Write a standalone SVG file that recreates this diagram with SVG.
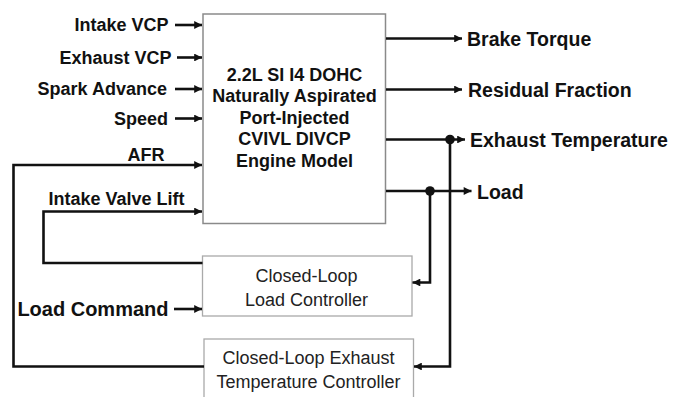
<svg xmlns="http://www.w3.org/2000/svg" width="675" height="397" viewBox="0 0 675 397">
<defs>
<style>
.lbl{font-family:"Liberation Sans",Arial,sans-serif;font-weight:bold;fill:#111;}
.in{font-size:18px;}
.out{font-size:19.5px;}
.box{fill:#fff;stroke:#8a8a8a;stroke-width:1.5;}
.cbox{fill:#fff;stroke:#aaa;stroke-width:1.3;}
.btxt{font-family:"Liberation Sans",Arial,sans-serif;font-weight:bold;font-size:18px;fill:#111;text-anchor:middle;}
.ctxt{font-family:"Liberation Sans",Arial,sans-serif;font-size:18px;fill:#222;text-anchor:middle;}
.w{fill:none;stroke:#111;stroke-width:2.6;}
</style>
<marker id="ah" viewBox="0 0 10 10" refX="10" refY="5" markerWidth="3.4" markerHeight="3" markerUnits="strokeWidth" orient="auto">
<path d="M0,0 L10,5 L0,10 Z" fill="#111"/>
</marker>
</defs>
<rect width="675" height="397" fill="#fff"/>

<g id="engine">
<rect class="box" x="203" y="14" width="182.5" height="209.5"/>
<text class="btxt" x="294.5" y="80.5">2.2L SI I4 DOHC</text>
<text class="btxt" x="294.5" y="102">Naturally Aspirated</text>
<text class="btxt" x="294.5" y="123.5">Port-Injected</text>
<text class="btxt" x="294.5" y="145">CVIVL DIVCP</text>
<text class="btxt" x="294.5" y="166.5">Engine Model</text>
</g>

<g id="load-controller">
<rect class="cbox" x="202.5" y="256" width="209.5" height="60"/>
<text class="ctxt" x="306.5" y="281.5">Closed-Loop</text>
<text class="ctxt" x="306.5" y="305.5">Load Controller</text>
</g>

<g id="exhaust-controller">
<rect class="cbox" x="204" y="339" width="209.5" height="70"/>
<text class="ctxt" x="308.5" y="364">Closed-Loop Exhaust</text>
<text class="ctxt" x="308.5" y="388">Temperature Controller</text>
</g>

<g id="labels">
<text class="lbl in" x="168.5" y="31" text-anchor="end">Intake VCP</text>
<text class="lbl in" x="171.5" y="63.5" text-anchor="end">Exhaust VCP</text>
<text class="lbl in" x="167" y="95" text-anchor="end">Spark Advance</text>
<text class="lbl in" x="168" y="124.5" text-anchor="end">Speed</text>
<text class="lbl in" x="164.5" y="160.5" text-anchor="end">AFR</text>
<text class="lbl in" x="184.5" y="205" text-anchor="end">Intake Valve Lift</text>
<text class="lbl" x="168.5" y="315.5" text-anchor="end" font-size="20px">Load Command</text>
<text class="lbl out" x="467" y="45.5">Brake Torque</text>
<text class="lbl out" x="468" y="96.5">Residual Fraction</text>
<text class="lbl out" x="470" y="146.5">Exhaust Temperature</text>
<text class="lbl out" x="477" y="198.5">Load</text>
</g>

<g id="connectors">
<line class="w" x1="175" y1="25" x2="202" y2="25" marker-end="url(#ah)"/>
<line class="w" x1="177" y1="57.5" x2="202" y2="57.5" marker-end="url(#ah)"/>
<line class="w" x1="175" y1="89" x2="202" y2="89" marker-end="url(#ah)"/>
<line class="w" x1="175" y1="118.5" x2="202" y2="118.5" marker-end="url(#ah)"/>
<polyline class="w" points="204,366.5 13.5,366.5 13.5,165 202,165" marker-end="url(#ah)"/>
<polyline class="w" points="202.5,263 43.5,263 43.5,211.5 202,211.5" marker-end="url(#ah)"/>
<line class="w" x1="174" y1="309" x2="202" y2="309" marker-end="url(#ah)"/>
<line class="w" x1="386" y1="38.5" x2="462" y2="38.5" marker-end="url(#ah)"/>
<line class="w" x1="386" y1="89.5" x2="462" y2="89.5" marker-end="url(#ah)"/>
<line class="w" x1="386" y1="139.5" x2="465" y2="139.5" marker-end="url(#ah)"/>
<line class="w" x1="386" y1="191" x2="471.5" y2="191" marker-end="url(#ah)"/>
<polyline class="w" points="430,191 430,282.5 412.5,282.5" marker-end="url(#ah)"/>
<polyline class="w" points="450,139.5 450,366.5 414,366.5" marker-end="url(#ah)"/>
<circle cx="450" cy="139.5" r="4.8" fill="#111"/>
<circle cx="430" cy="191" r="4.8" fill="#111"/>
</g>
</svg>
